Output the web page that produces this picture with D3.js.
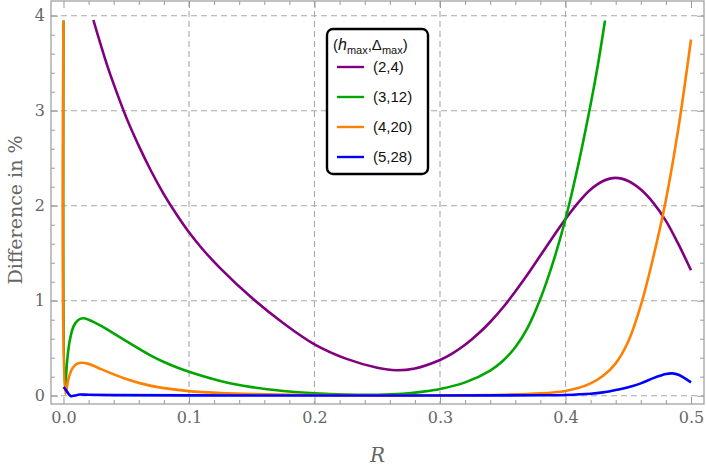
<!DOCTYPE html>
<html>
<head>
<meta charset="utf-8">
<script src="https://cdn.jsdelivr.net/npm/d3@7"></script>
<style>
  body { margin: 0; background: #fff; }
</style>
</head>
<body>
<svg id="chart" width="706" height="472"></svg>
<script>
// series labels and colours (legend order)
const labels = ['(2,4)', '(3,12)', '(4,20)', '(5,28)'];
const colors = ['#800080', '#00a600', '#ff8000', '#0000ff'];

// (2,4)
const rPurple = [0.0238, 0.03, 0.035, 0.04, 0.05, 0.06, 0.07, 0.08, 0.09, 0.1, 0.11, 0.125, 0.15, 0.175, 0.2, 0.225, 0.25, 0.265, 0.28, 0.3, 0.31, 0.32, 0.33, 0.34, 0.35, 0.36, 0.37, 0.38, 0.39, 0.4, 0.41, 0.42, 0.43, 0.44, 0.45, 0.46, 0.47, 0.48, 0.49, 0.5];
const vPurple = [3.955, 3.68, 3.47, 3.28, 2.93, 2.63, 2.36, 2.12, 1.91, 1.72, 1.555, 1.34, 1.03, 0.765, 0.54, 0.39, 0.295, 0.268, 0.287, 0.376, 0.446, 0.536, 0.646, 0.776, 0.926, 1.096, 1.28, 1.475, 1.67, 1.86, 2.03, 2.17, 2.26, 2.293, 2.26, 2.17, 2.03, 1.84, 1.595, 1.32];

// (3,12)
const rGreen = [0, 0.001, 0.003, 0.005, 0.008, 0.012, 0.016, 0.02, 0.03, 0.04, 0.05, 0.06, 0.07, 0.08, 0.09, 0.1, 0.125, 0.15, 0.175, 0.2, 0.225, 0.25, 0.27, 0.285, 0.3, 0.32, 0.34, 0.35, 0.36, 0.37, 0.38, 0.39, 0.4, 0.41, 0.418, 0.425, 0.4315];
const vGreen = [3.95, 0.06, 0.38, 0.58, 0.73, 0.80, 0.815, 0.80, 0.735, 0.655, 0.575, 0.495, 0.42, 0.355, 0.30, 0.252, 0.155, 0.09, 0.05, 0.025, 0.012, 0.01, 0.02, 0.04, 0.07, 0.14, 0.265, 0.365, 0.51, 0.72, 1.02, 1.40, 1.86, 2.42, 2.93, 3.42, 3.95];

// (4,20)
const rOrange = [0, 0.0015, 0.004, 0.007, 0.01, 0.014, 0.02, 0.03, 0.04, 0.05, 0.06, 0.075, 0.1, 0.125, 0.15, 0.2, 0.25, 0.3, 0.35, 0.38, 0.4, 0.41, 0.42, 0.43, 0.44, 0.45, 0.46, 0.47, 0.48, 0.49, 0.5];
const vOrange = [3.95, 0.02, 0.18, 0.285, 0.33, 0.347, 0.335, 0.28, 0.225, 0.175, 0.135, 0.09, 0.048, 0.028, 0.017, 0.007, 0.003, 0.004, 0.01, 0.024, 0.05, 0.08, 0.13, 0.21, 0.34, 0.57, 0.95, 1.46, 2.06, 2.82, 3.75];

// (5,28)
const rBlue = [0, 0.002, 0.004, 0.006, 0.009, 0.013, 0.02, 0.04, 0.1, 0.2, 0.3, 0.35, 0.38, 0.4, 0.42, 0.43, 0.44, 0.45, 0.46, 0.47, 0.48, 0.485, 0.49, 0.5];
const vBlue = [0.09, 0.06, 0.02, -0.005, 0.002, 0.012, 0.01, 0.006, 0.003, 0.002, 0.002, 0.003, 0.005, 0.008, 0.02, 0.035, 0.06, 0.088, 0.13, 0.185, 0.228, 0.235, 0.22, 0.14];

const xTicks = [0, 0.1, 0.2, 0.3, 0.4, 0.5];
const xTickLabels = ['0.0', '0.1', '0.2', '0.3', '0.4', '0.5'];
const yTicks = [0, 1, 2, 3, 4];
const xGrid = [0.1, 0.2, 0.3, 0.4];
const yGrid = [0, 1, 2, 3, 4];

const series = [
  {r: rPurple, v: vPurple},
  {r: rGreen, v: vGreen},
  {r: rOrange, v: vOrange},
  {r: rBlue, v: vBlue}
];

const svg = d3.select('#chart');
const pLeft = 51, pRight = 704, pTop = 1, pBottom = 404;

const x = d3.scaleLinear().domain([-0.00996, 0.51036]).range([pLeft, pRight]);
const y = d3.scaleLinear().domain([-0.0874, 4.155]).range([pBottom, pTop]);

const frameColor = '#9a9a9a';
const labelColor = '#666';

svg.append('defs').append('clipPath').attr('id', 'plotclip')
  .append('rect')
    .attr('x', pLeft).attr('y', pTop)
    .attr('width', pRight - pLeft).attr('height', pBottom - pTop);

// dashed grid
const grid = svg.append('g').attr('class', 'grid')
    .style('stroke', '#a8a8a8')
    .style('stroke-width', 1.1)
    .style('stroke-dasharray', '6,4');
grid.selectAll('line.gx')
    .data(xGrid)
    .enter()
    .append('line')
    .attr('x1', (d) => x(d)).attr('x2', (d) => x(d))
    .attr('y1', pTop).attr('y2', pBottom);
grid.selectAll('line.gy')
    .data(yGrid)
    .enter()
    .append('line')
    .attr('x1', pLeft).attr('x2', pRight)
    .attr('y1', (d) => y(d)).attr('y2', (d) => y(d));

// curves
const line = d3.line()
    .x((d) => x(d[0]))
    .y((d) => y(d[1]))
    .curve(d3.curveCatmullRom.alpha(0.5));

svg.append('g')
    .attr('clip-path', 'url(#plotclip)')
  .selectAll('path')
    .data(series)
    .enter()
    .append('path')
    .attr('d', (s) => line(s.r.map((r, i) => [r, s.v[i]])))
    .style('fill', 'none')
    .style('stroke', (s, i) => colors[i])
    .style('stroke-width', 2.6)
    .style('stroke-linejoin', 'round');

// frame ticks (inside, on all four sides)
const xMinor = d3.range(0, 0.5001, 0.02).filter((d) => Math.abs(d * 10 - Math.round(d * 10)) > 1e-6);
const yMinor = d3.range(0, 4.001, 0.2).filter((d) => Math.abs(d - Math.round(d)) > 1e-6);

const styleAxis = (g) => {
  g.select('.domain').remove();
  g.selectAll('line').style('stroke', frameColor).style('stroke-width', 1);
  g.selectAll('text')
      .style('font-family', '"DejaVu Serif", serif')
      .style('font-size', '16px')
      .style('fill', labelColor);
};

svg.append('g')
    .attr('transform', `translate(0,${pBottom})`)
    .call(d3.axisBottom(x).tickValues(xTicks).tickSize(-7).tickPadding(8)
      .tickFormat((d, i) => xTickLabels[i]))
    .call(styleAxis);
svg.append('g')
    .attr('transform', `translate(0,${pBottom})`)
    .call(d3.axisBottom(x).tickValues(xMinor).tickSize(-4).tickFormat(''))
    .call(styleAxis);
svg.append('g')
    .attr('transform', `translate(0,${pTop})`)
    .call(d3.axisTop(x).tickValues(xTicks).tickSize(-7).tickFormat(''))
    .call(styleAxis);
svg.append('g')
    .attr('transform', `translate(0,${pTop})`)
    .call(d3.axisTop(x).tickValues(xMinor).tickSize(-4).tickFormat(''))
    .call(styleAxis);

svg.append('g')
    .attr('transform', `translate(${pLeft},0)`)
    .call(d3.axisLeft(y).tickValues(yTicks).tickSize(-7).tickPadding(6).tickFormat(d3.format('d')))
    .call(styleAxis);
svg.append('g')
    .attr('transform', `translate(${pLeft},0)`)
    .call(d3.axisLeft(y).tickValues(yMinor).tickSize(-4).tickFormat(''))
    .call(styleAxis);
svg.append('g')
    .attr('transform', `translate(${pRight},0)`)
    .call(d3.axisRight(y).tickValues(yTicks).tickSize(-7).tickFormat(''))
    .call(styleAxis);
svg.append('g')
    .attr('transform', `translate(${pRight},0)`)
    .call(d3.axisRight(y).tickValues(yMinor).tickSize(-4).tickFormat(''))
    .call(styleAxis);

// frame
svg.append('rect')
    .attr('x', pLeft).attr('y', pTop)
    .attr('width', pRight - pLeft).attr('height', pBottom - pTop)
    .style('fill', 'none')
    .style('stroke', frameColor)
    .style('stroke-width', 1.2);

// axis titles
svg.append('text')
    .text('R')
    .attr('x', (pLeft + pRight) / 2)
    .attr('y', 462)
    .attr('text-anchor', 'middle')
    .style('font-family', '"DejaVu Serif", serif')
    .style('font-style', 'italic')
    .style('font-size', '20px')
    .style('fill', labelColor);

svg.append('text')
    .text('Difference in %')
    .attr('transform', 'translate(22,210) rotate(-90)')
    .attr('text-anchor', 'middle')
    .style('font-family', '"DejaVu Serif", serif')
    .style('font-size', '19px')
    .style('fill', labelColor);

// legend
const legend = svg.append('g').attr('class', 'legend');
legend.append('rect')
    .attr('x', 327).attr('y', 29)
    .attr('width', 101).attr('height', 145)
    .attr('rx', 6).attr('ry', 6)
    .style('fill', 'white')
    .style('stroke', 'black')
    .style('stroke-width', 2.4);

const title = legend.append('text')
    .attr('x', 333).attr('y', 50)
    .style('font-family', '"Liberation Sans", Arial, sans-serif')
    .style('font-size', '15px')
    .style('fill', '#111');
title.append('tspan').text('(');
title.append('tspan').text('h').style('font-style', 'italic').style('font-size', '16px');
title.append('tspan').text('max').attr('dy', 4).style('font-size', '11px');
title.append('tspan').text(',Δ').attr('dy', -4);
title.append('tspan').text('max').attr('dy', 4).style('font-size', '11px');
title.append('tspan').text(')').attr('dy', -4);

const items = legend.selectAll('g.item')
    .data(labels)
    .enter()
    .append('g')
    .classed('item', true)
    .attr('transform', (d, i) => `translate(0,${67 + i * 30})`);
items.append('line')
    .attr('x1', 337).attr('x2', 364)
    .style('stroke', (d, i) => colors[i])
    .style('stroke-width', 2.4);
items.append('text')
    .text((d) => d)
    .attr('x', 373)
    .attr('y', 5)
    .style('font-family', '"Liberation Sans", Arial, sans-serif')
    .style('font-size', '15px')
    .style('fill', '#111');
</script>
</body>
</html>
